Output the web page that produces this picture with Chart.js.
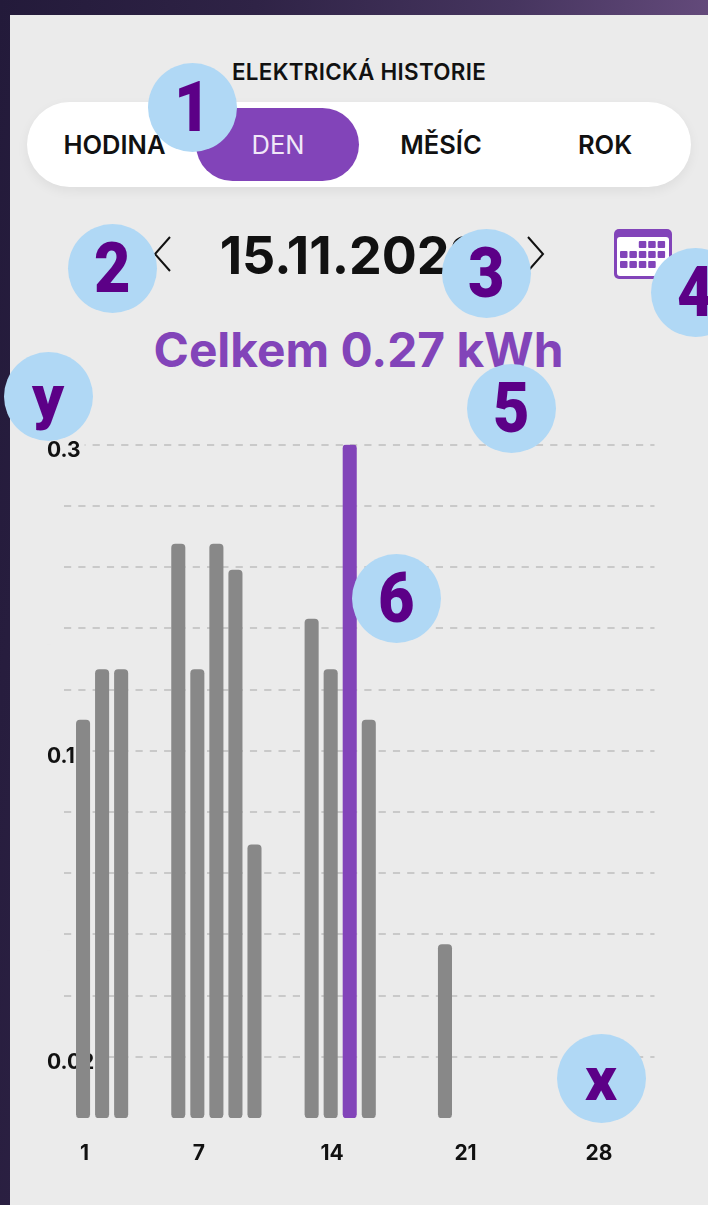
<!DOCTYPE html>
<html lang="cs">
<head>
<meta charset="UTF-8">
<title>Elektrická historie</title>
<script src="https://cdn.jsdelivr.net/npm/chart.js"></script>
<style>
    html, body { margin: 0; padding: 0; }
    body { width: 708px; height: 1205px; position: relative; overflow: hidden; font-family: Inter, sans-serif; color: #111;
        background: linear-gradient(97deg, #231a3a 0%, #2f2346 30%, #46355f 60%, #79598f 100%); }
    .panel { position: absolute; left: 10px; top: 15px; width: 698px; height: 1190px; background: #ebebeb; }
    .txt { position: absolute; transform: translate(-50%, -50%); white-space: nowrap; }
    .heading { left: 359px; top: 71px; font-size: 22.4px; font-weight: 600; letter-spacing: 0.3px; }
    .switch { position: absolute; left: 27px; top: 102px; width: 664px; height: 85px; border-radius: 43px; background: #fff; box-shadow: 0 4px 12px rgba(0,0,0,0.06); }
    .active { position: absolute; left: 196px; top: 108px; width: 163px; height: 73px; border-radius: 37px; background: #8244b9; }
    .tab { top: 144px; font-size: 25.5px; font-weight: 600; }
    .date { left: 351px; top: 255px; font-size: 52px; font-weight: 700; }
    .total { left: 358.5px; top: 350px; font-size: 47.8px; font-weight: 700; color: #8244b9; }
    canvas { position: absolute; left: 10px; top: 400px; }
    svg { position: absolute; }
    .mark { position: absolute; width: 89px; height: 89px; margin: -44.5px 0 0 -44.5px; border-radius: 50%; background: #b0d8f5; color: #5c0087;
        font-family: Roboto, sans-serif; font-weight: 900; font-size: 70px; line-height: 89px; text-align: center; }
    .mark span { display: inline-block; transform: scaleX(0.9); }
    .mark.letter { font-size: 62px; }
    .mark.letter span { transform: none; }
</style>
</head>
<body>
<div class="panel"></div>
<div class="txt heading">ELEKTRICKÁ HISTORIE</div>
<div class="switch"></div>
<div class="active"></div>
<div class="txt tab" style="left:114.5px">HODINA</div>
<div class="txt tab" style="left:278px;color:#f0e8f8;font-weight:400">DEN</div>
<div class="txt tab" style="left:441px">MĚSÍC</div>
<div class="txt tab" style="left:605px">ROK</div>

<svg style="left:150px;top:234px" width="24" height="40"><polyline points="20,3 5,20 20,37" fill="none" stroke="#111" stroke-width="2"/></svg>
<div class="txt date">15.11.2022</div>
<svg style="left:524px;top:234px" width="24" height="40"><polyline points="4,3 19,20 4,37" fill="none" stroke="#111" stroke-width="2"/></svg>

<svg style="left:613px;top:228px" width="60" height="52" id="calendar">
    <rect x="1" y="1" width="58" height="50" rx="5" fill="#8244b9"/>
    <rect x="4" y="9" width="52" height="39" rx="3" fill="#fff"/>
</svg>

<div class="txt total">Celkem 0.27 kWh</div>

<canvas id="historyChart" width="698" height="805" style="width:698px;height:805px"></canvas>

<div class="mark" style="left:192px;top:107px"><span>1</span></div>
<div class="mark" style="left:112px;top:268px"><span>2</span></div>
<div class="mark" style="left:486px;top:273px"><span>3</span></div>
<div class="mark" style="left:695px;top:292px"><span>4</span></div>
<div class="mark" style="left:511px;top:408px"><span>5</span></div>
<div class="mark" style="left:396px;top:598px"><span>6</span></div>
<div class="mark letter" style="left:48px;top:396px"><span>y</span></div>
<div class="mark letter" style="left:601px;top:1078px"><span>x</span></div>

<script>
    const days = [1, 2, 3, 6, 7, 8, 9, 10, 13, 14, 15, 16, 20];
    const kwh = [0.12, 0.153, 0.153, 0.235, 0.153, 0.235, 0.218, 0.0754, 0.186, 0.153, 0.3, 0.12, 0.0493];
    const selectedDay = 15;
    const xTicks = [1, 7, 14, 21, 28];
    const yLabels = ['0.02', '', '', '', '', '0.1', '', '', '', '', '0.3'];
    const gridSteps = [1, 2, 3, 4, 5, 6, 7, 8, 9, 10, 11];

    // the app's axis is not linear: equal steps between 0, 0.02, 0.1 and 0.3
    const axisValues = [0, 0.02, 0.1, 0.3];
    const axisSteps = [0, 1, 6, 11];
    function toStep(v) {
        let i = 0;
        while (i < axisValues.length - 2 && v > axisValues[i + 1]) i++;
        const t = (v - axisValues[i]) / (axisValues[i + 1] - axisValues[i]);
        return axisSteps[i] + t * (axisSteps[i + 1] - axisSteps[i]);
    }

    // little squares of the calendar icon
    const cal = document.getElementById('calendar');
    [[2, 3, 4], [0, 1, 2, 3, 4], [0, 1, 2, 3]].forEach((row, r) => {
        row.forEach(c => {
            const s = document.createElementNS('http://www.w3.org/2000/svg', 'rect');
            s.setAttribute('x', 7 + c * 9.4);
            s.setAttribute('y', 13 + r * 10);
            s.setAttribute('width', 7.5);
            s.setAttribute('height', 7);
            s.setAttribute('rx', 1);
            s.setAttribute('fill', '#8244b9');
            cal.appendChild(s);
        });
    });

    const tickFont = { family: 'Inter', size: 21, weight: '700' };

    new Chart(document.getElementById('historyChart'), {
        type: 'bar',
        data: {
            datasets: [{
                data: days.map((d, i) => ({ x: d, y: toStep(kwh[i]) })),
                backgroundColor: days.map(d => d === selectedDay ? '#8244b9' : '#888888'),
                barThickness: 13.4,
                borderRadius: 4,
                borderSkipped: false
            }]
        },
        options: {
            responsive: false,
            animation: false,
            layout: { padding: { left: 54, right: 53.5, top: 44.7, bottom: 37 } },
            plugins: { legend: { display: false }, tooltip: { enabled: false } },
            scales: {
                x: {
                    type: 'linear',
                    offset: false,
                    min: 0,
                    max: 31,
                    grid: { display: false },
                    border: { display: false },
                    afterBuildTicks: s => { s.ticks = xTicks.map(v => ({ value: v })); },
                    afterFit: s => { s.height = 50; },
                    ticks: {
                        autoSkip: false,
                        maxRotation: 0,
                        color: '#111',
                        font: tickFont,
                        padding: 15,
                        labelOffset: 1.5,
                        callback: v => String(v)
                    }
                },
                y: {
                    min: 0,
                    max: 11,
                    grid: { color: '#c9c9c9', lineWidth: 2, drawTicks: false },
                    border: { display: false, dash: [7.2, 7.1] },
                    afterBuildTicks: s => { s.ticks = gridSteps.map(v => ({ value: v })); },
                    afterFit: s => { s.width = 0; },
                    ticks: {
                        autoSkip: false,
                        mirror: true,
                        crossAlign: 'near',
                        padding: -17,
                        labelOffset: 5.5,
                        color: '#111',
                        font: tickFont,
                        showLabelBackdrop: true,
                        backdropColor: '#ebebeb',
                        backdropPadding: { left: 0, right: 4, top: -2, bottom: -2 },
                        callback: (v, i) => yLabels[i]
                    }
                }
            }
        }
    });
</script>
</body>
</html>
